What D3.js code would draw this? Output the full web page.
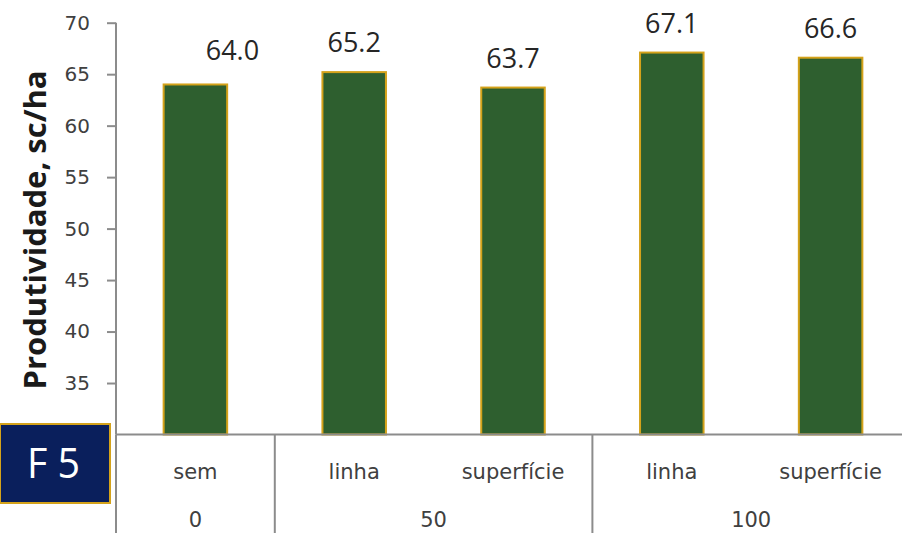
<!DOCTYPE html>
<html><head><meta charset="utf-8">
<script src="https://cdn.jsdelivr.net/npm/d3@7"></script>
<style>html,body{margin:0;padding:0;background:#fff;}svg{display:block;}</style>
</head><body>
<svg id="c" width="902" height="535"></svg>
<script>
const modes = ["sem", "linha", "superfície", "linha", "superfície"];
const doses = ["0", "50", "50", "100", "100"];
const values = [64.0, 65.2, 63.7, 67.1, 66.6];
const yTicks = [35, 40, 45, 50, 55, 60, 65, 70];
const yTitle = "Produtividade, sc/ha";
const badge = "F 5";

(function () {
const svg = d3.select("#c");
const mLeft = 116, mRight = 910, mTop = 22.7, mBottom = 434.5;
const ids = values.map((d, i) => i);
const x = d3.scaleBand().domain(ids).range([mLeft, mRight]).paddingInner(0.6).paddingOuter(0.3);
const y = d3.scaleLinear().domain([30, 70]).range([mBottom, mTop]);
const step = x.step();
const axisCol = "#8c8c8c";

// y axis
const ya = svg.append("g").attr("transform", `translate(${mLeft},0)`)
  .call(d3.axisLeft(y).tickValues(yTicks).tickSize(9).tickPadding(17).tickFormat(d3.format("d")));
ya.select(".domain").attr("stroke", axisCol).attr("stroke-width", 2).attr("d", `M0,${y(70)}V${mBottom}`);
ya.selectAll(".tick line").attr("stroke", axisCol).attr("stroke-width", 2);
ya.selectAll(".tick text").attr("fill", "#404040").style("font-family", "DejaVu Sans").style("font-size", "20px");

// bars
svg.append("g").selectAll("rect").data(values).join("rect")
  .attr("x", (d, i) => x(i)).attr("width", x.bandwidth())
  .attr("y", d => y(d)).attr("height", d => y(30) - y(d))
  .attr("fill", "#2e5f2f").attr("stroke", "#d4a21a").attr("stroke-width", 2);

// value labels
svg.append("g").selectAll("text").data(values).join("text")
  .attr("x", (d, i) => x(i) + x.bandwidth() / 2 + (i === 0 ? 37 : 0))
  .attr("y", (d, i) => y(d) - (i === 0 ? 24 : 20))
  .attr("text-anchor", "middle").attr("fill", "#262626")
  .style("font-family", "Open Sans").style("font-size", "27px")
  .text(d => d.toFixed(1));

// x axis line
svg.append("line").attr("x1", mLeft).attr("x2", mRight).attr("y1", mBottom).attr("y2", mBottom)
  .attr("stroke", axisCol).attr("stroke-width", 2);

// category labels
svg.append("g").selectAll("text").data(modes).join("text")
  .attr("x", (d, i) => x(i) + x.bandwidth() / 2).attr("y", 479)
  .attr("text-anchor", "middle").attr("fill", "#404040")
  .style("font-family", "DejaVu Sans").style("font-size", "21px")
  .text(d => d);

// groups
const groups = [];
doses.forEach((d, i) => {
  const g = groups[groups.length - 1];
  if (g && g.label === d) g.end = i; else groups.push({label: d, start: i, end: i});
});
const bandLeft = i => x(i) - x.paddingInner() * step / 2;
const sepX = [mLeft].concat(groups.slice(1).map(g => bandLeft(g.start)));
svg.append("g").selectAll("line").data(sepX).join("line")
  .attr("x1", d => d).attr("x2", d => d).attr("y1", mBottom).attr("y2", 533)
  .attr("stroke", axisCol).attr("stroke-width", 2);
svg.append("g").selectAll("text").data(groups).join("text")
  .attr("x", g => (bandLeft(g.start) + bandLeft(g.end) + step) / 2).attr("y", 527)
  .attr("text-anchor", "middle").attr("fill", "#404040")
  .style("font-family", "DejaVu Sans").style("font-size", "21px")
  .text(g => g.label);

// y title
svg.append("text").attr("transform", `translate(46,230) rotate(-90)`)
  .attr("text-anchor", "middle").attr("fill", "#1a1a1a")
  .style("font-family", "Open Sans").style("font-weight", "bold").style("font-size", "31px")
  .text(yTitle);

// badge
svg.append("rect").attr("x", 0).attr("y", 424).attr("width", 110).attr("height", 79)
  .attr("fill", "#0a1f5c").attr("stroke", "#d4a21a").attr("stroke-width", 2);
svg.append("text").attr("x", 53.5).attr("y", 478).attr("text-anchor", "middle")
  .attr("fill", "#fff").style("font-family", "Open Sans").style("font-size", "42px")
  .attr("textLength", 53).attr("lengthAdjust", "spacingAndGlyphs")
  .text(badge);
})();
</script>
</body></html>
